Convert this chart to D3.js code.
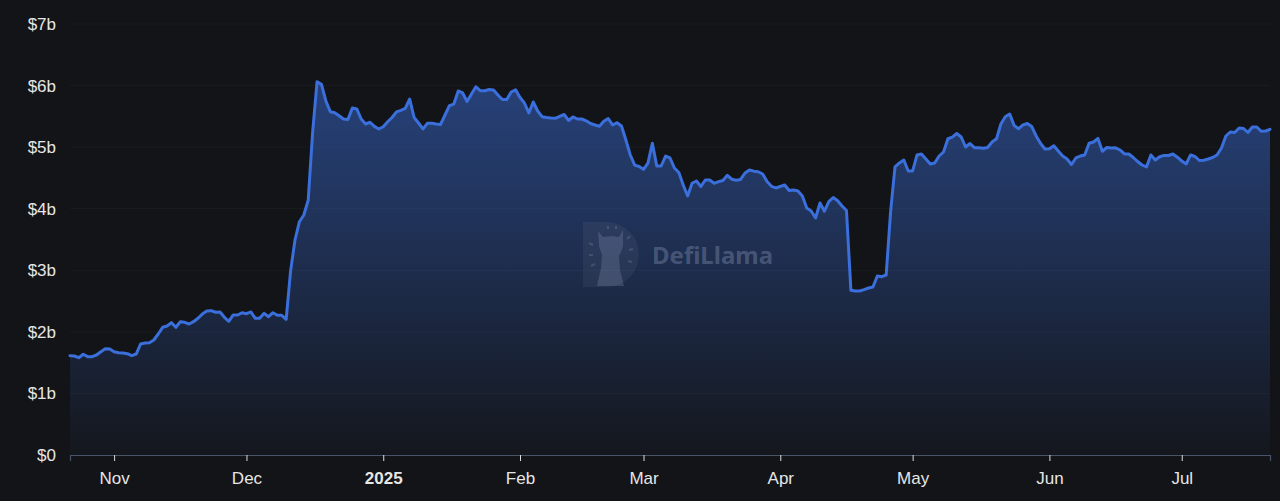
<!DOCTYPE html>
<html>
<head>
<meta charset="utf-8">
<script src="https://cdn.jsdelivr.net/npm/d3@7"></script>
<style>
  html, body { margin: 0; padding: 0; background: #131417; }
  svg { display: block; }
</style>
</head>
<body>
<svg id="chart" width="1280" height="501"></svg>
<script>
// ---- data (TVL in $ billions, one value per day starting at startDate) ----
const startDate = "2024-10-22";
const tvl = [
  1.613,1.608,1.580,1.636,1.597,1.597,1.624,1.678,1.726,1.722,
  1.678,1.662,1.655,1.645,1.613,1.640,1.803,1.819,1.824,1.868,
  1.965,2.074,2.095,2.149,2.074,2.165,2.155,2.128,2.165,2.220,
  2.290,2.339,2.344,2.318,2.323,2.236,2.172,2.274,2.274,2.311,
  2.295,2.323,2.220,2.220,2.301,2.246,2.311,2.269,2.269,2.204,
  2.990,3.492,3.789,3.898,4.142,5.243,6.063,6.019,5.750,5.576,
  5.558,5.510,5.457,5.449,5.636,5.620,5.457,5.376,5.404,5.337,
  5.295,5.331,5.412,5.481,5.574,5.598,5.628,5.782,5.481,5.392,
  5.295,5.387,5.387,5.376,5.368,5.522,5.673,5.700,5.912,5.880,
  5.741,5.863,5.980,5.917,5.917,5.936,5.928,5.847,5.774,5.772,
  5.896,5.931,5.808,5.717,5.555,5.733,5.587,5.495,5.483,5.475,
  5.469,5.501,5.530,5.433,5.490,5.457,5.457,5.428,5.384,5.360,
  5.339,5.420,5.465,5.360,5.397,5.343,5.116,4.872,4.707,4.686,
  4.640,4.742,5.063,4.694,4.694,4.856,4.824,4.661,4.588,4.385,
  4.207,4.413,4.450,4.361,4.466,4.466,4.413,4.439,4.458,4.543,
  4.479,4.463,4.475,4.580,4.629,4.610,4.601,4.564,4.442,4.364,
  4.337,4.361,4.385,4.296,4.304,4.288,4.207,4.012,3.963,3.849,
  4.093,3.960,4.116,4.182,4.130,4.044,3.971,2.677,2.664,2.664,
  2.686,2.712,2.729,2.907,2.896,2.923,3.950,4.678,4.743,4.791,
  4.613,4.613,4.873,4.889,4.808,4.726,4.743,4.856,4.921,5.136,
  5.162,5.222,5.165,5.002,5.059,4.991,4.991,4.983,4.994,5.084,
  5.135,5.376,5.493,5.538,5.353,5.298,5.360,5.384,5.335,5.181,
  5.059,4.970,4.973,5.022,4.937,4.856,4.808,4.718,4.824,4.856,
  4.873,5.064,5.084,5.141,4.933,4.994,4.986,4.989,4.954,4.889,
  4.889,4.832,4.767,4.710,4.678,4.873,4.791,4.845,4.866,4.864,
  4.889,4.837,4.775,4.726,4.873,4.848,4.783,4.788,4.808,4.832,
  4.873,4.986,5.181,5.246,5.238,5.311,5.303,5.238,5.327,5.327,
  5.258,5.262,5.290
];
const yTicks = [0, 1, 2, 3, 4, 5, 6, 7];
const yTickLabels = ["$0", "$1b", "$2b", "$3b", "$4b", "$5b", "$6b", "$7b"];
const xTickLabels = ["Nov", "Dec", "2025", "Feb", "Mar", "Apr", "May", "Jun", "Jul"];

// ---- build rows ----
const t0 = new Date(startDate + "T00:00:00Z");
const rows = tvl.map((v, i) => ({ date: d3.utcDay.offset(t0, i), value: v }));

const svg = d3.select("#chart");
const W = 1280, H = 501;
const margin = { left: 70, right: 10, top: 24, bottom: 46 };

const x = d3.scaleUtc()
  .domain([rows[0].date, rows[rows.length - 1].date])
  .range([margin.left, W - margin.right]);
const y = d3.scaleLinear()
  .domain([0, 7])
  .range([H - margin.bottom, margin.top]);

const lineColor = "#3a6fdc";

// gradient
const defs = svg.append("defs");
const grad = defs.append("linearGradient")
  .attr("id", "areaGrad")
  .attr("gradientUnits", "userSpaceOnUse")
  .attr("x1", 0).attr("x2", 0)
  .attr("y1", y(d3.max(tvl))).attr("y2", y(0));
grad.append("stop").attr("offset", "0%").attr("stop-color", lineColor).attr("stop-opacity", 0.5);
grad.append("stop").attr("offset", "55%").attr("stop-color", lineColor).attr("stop-opacity", 0.25);
grad.append("stop").attr("offset", "100%").attr("stop-color", lineColor).attr("stop-opacity", 0.03);

// grid lines
svg.append("g").selectAll("line")
  .data(yTicks.filter(d => d > 0))
  .join("line")
  .attr("x1", margin.left).attr("x2", W - margin.right)
  .attr("y1", d => y(d)).attr("y2", d => y(d))
  .attr("stroke", "#ffffff").attr("stroke-opacity", 0.035).attr("stroke-width", 1);

// y labels
svg.append("g").selectAll("text")
  .data(yTicks)
  .join("text")
  .attr("x", 56)
  .attr("y", d => y(d))
  .attr("dy", "0.35em")
  .attr("text-anchor", "end")
  .attr("fill", "#e6e6e6")
  .attr("font-family", "'Liberation Sans', Arial, sans-serif")
  .attr("font-size", 17)
  .text((d, i) => yTickLabels[i]);

// area
const area = d3.area()
  .x(d => x(d.date))
  .y0(y(0))
  .y1(d => y(d.value));
svg.append("path")
  .datum(rows)
  .attr("d", area)
  .attr("fill", "url(#areaGrad)");

// watermark
const wm = svg.append("g");
wm.append("path")
  .attr("d", "M583,222 H606 A33,32.5 0 0 1 606,287 H583 Z")
  .attr("fill", "#ffffff").attr("fill-opacity", 0.05);
wm.append("path")
  .attr("d", "M599,246 L598,231 L603,237 L612,236 L619,237 L623,230 L623,246 L621,252 L619,256 L620,270 L624,286 L597,286 L601,268 L602,255 Z")
  .attr("fill", "#a9b6d6").attr("fill-opacity", 0.2);
const rays = [[589,243,593,245],[589,255,593,255],[591,266,595,264],[630,236,627,239],[633,249,629,250],[632,262,628,261],[608,226,608,229],[616,226,616,229]];
wm.append("g").selectAll("line").data(rays).join("line")
  .attr("x1", d => d[0]).attr("y1", d => d[1]).attr("x2", d => d[2]).attr("y2", d => d[3])
  .attr("stroke", "#a9b6d6").attr("stroke-opacity", 0.2).attr("stroke-width", 2);
wm.append("text")
  .attr("x", 652).attr("y", 264)
  .attr("fill", "#a9b6d6").attr("fill-opacity", 0.3)
  .attr("font-family", "'Noto Sans', 'Open Sans', sans-serif")
  .attr("font-weight", 700)
  .attr("font-size", 24)
  .text("DefiLlama");

// line
const line = d3.line()
  .x(d => x(d.date))
  .y(d => y(d.value));
svg.append("path")
  .datum(rows)
  .attr("d", line)
  .attr("fill", "none")
  .attr("stroke", lineColor)
  .attr("stroke-width", 3)
  .attr("stroke-linejoin", "round")
  .attr("stroke-linecap", "round");

// x axis
const monthTicks = d3.utcMonth.range(d3.utcMonth.ceil(rows[0].date), rows[rows.length - 1].date);
const xAxis = d3.axisBottom(x)
  .tickValues(monthTicks)
  .tickSize(6)
  .tickPadding(11)
  .tickFormat((d, i) => xTickLabels[i]);
const gx = svg.append("g")
  .attr("transform", `translate(0,${y(0)})`)
  .call(xAxis);
gx.select(".domain").attr("stroke", "#4a5468").attr("stroke-width", 1.2);
gx.selectAll(".tick line").attr("stroke", "#dcdcdc");
gx.selectAll(".tick text")
  .attr("fill", "#e6e6e6")
  .attr("font-family", "'Liberation Sans', Arial, sans-serif")
  .attr("font-size", 17)
  .attr("font-weight", (d, i) => xTickLabels[i] === "2025" ? 700 : 400);
</script>
</body>
</html>
